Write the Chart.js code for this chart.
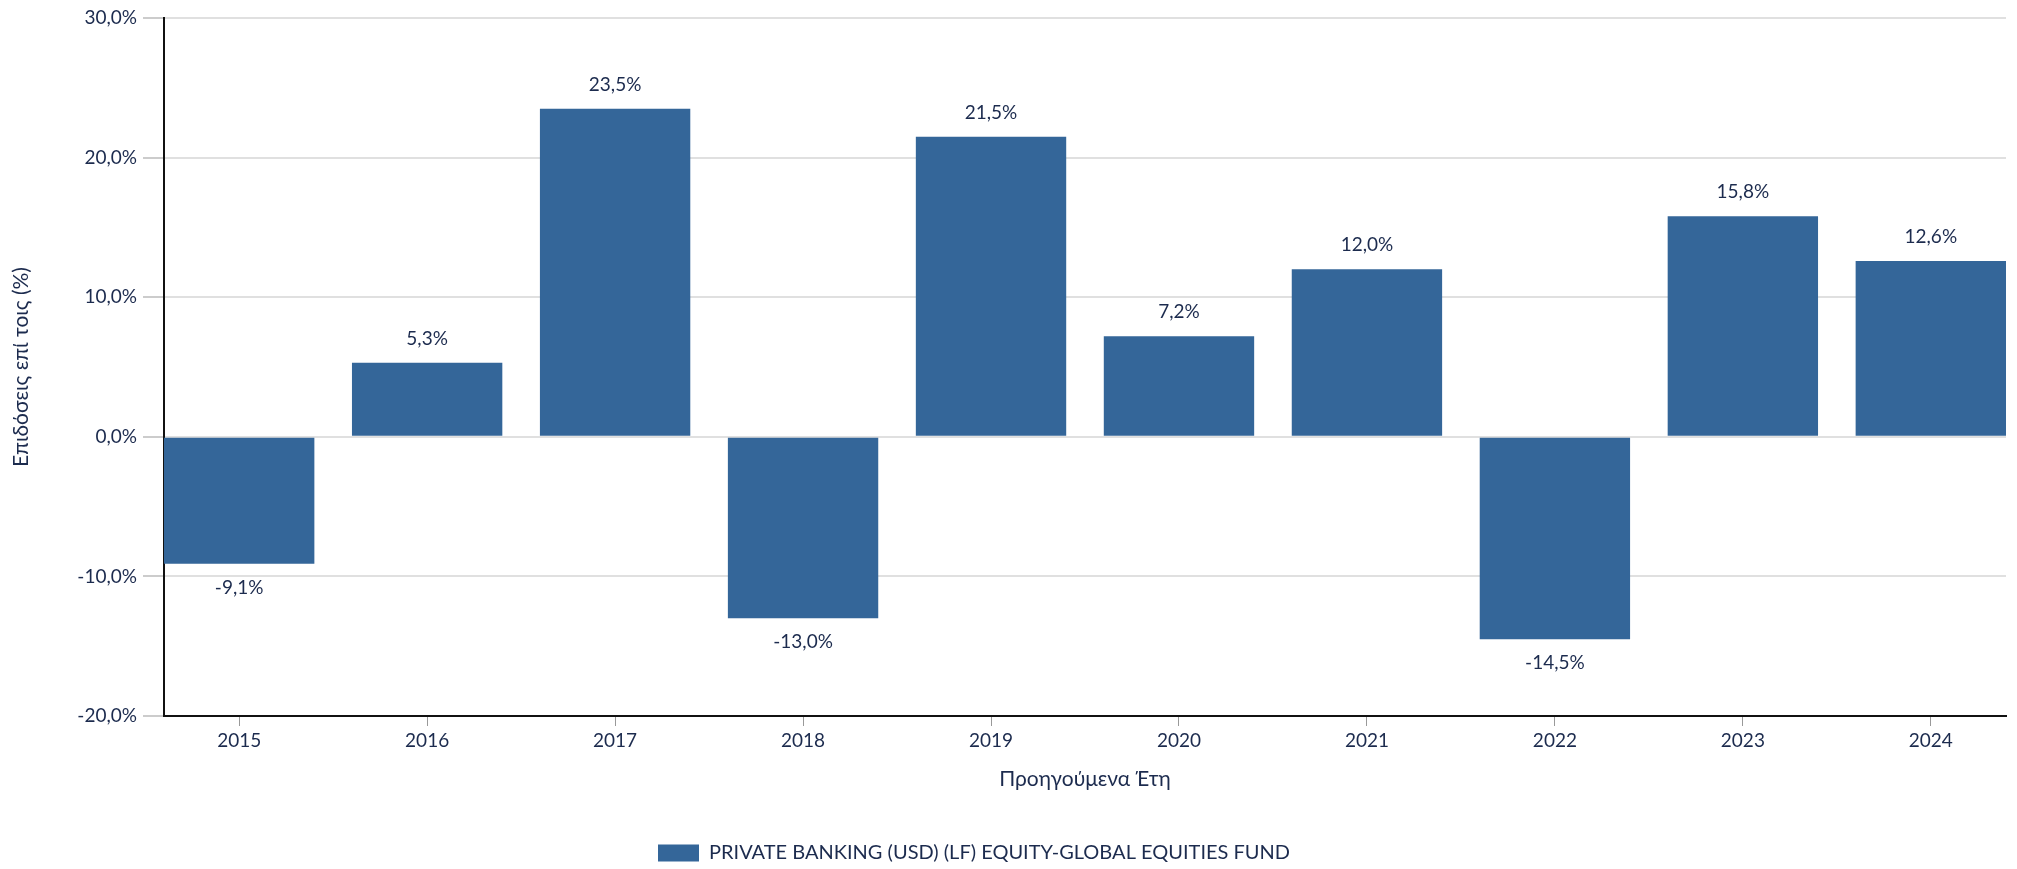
<!DOCTYPE html>
<html><head><meta charset="utf-8">
<script src="https://cdn.jsdelivr.net/npm/chart.js@4/dist/chart.umd.min.js"></script>
<style>html,body{margin:0;padding:0;background:#fff}#wrap{width:2017px;height:869px;position:relative}</style>
</head><body><div id="wrap"><canvas id="c"></canvas></div>
<script>
const years = ['2015','2016','2017','2018','2019','2020','2021','2022','2023','2024'];
const returns = [-9.1, 5.3, 23.5, -13.0, 21.5, 7.2, 12.0, -14.5, 15.8, 12.6];
const yTickValues = [-20, -10, 0, 10, 20, 30];
const seriesName = 'PRIVATE BANKING (USD) (LF) EQUITY-GLOBAL EQUITIES FUND';
const xTitle = 'Προηγούμενα Έτη';
const yTitle = 'Επιδόσεις επί τοις (%)';

const NAVY = '#1c2b4e';
const BAR = '#346699';
const FONT = "Lato, 'Noto Sans', sans-serif";
const fmt = v => Number(v).toFixed(1).replace('.', ',') + '%';

const valueLabels = {
  id: 'valueLabels',
  afterDatasetsDraw(chart) {
    const ctx = chart.ctx;
    const meta = chart.getDatasetMeta(0);
    ctx.save();
    ctx.font = '19px ' + FONT;
    ctx.fillStyle = NAVY;
    ctx.textAlign = 'center';
    ctx.textBaseline = 'middle';
    meta.data.forEach((el, i) => {
      const v = returns[i];
      const y = v >= 0 ? el.y - 24 : el.y + 24;
      ctx.fillText(fmt(v), el.x, y);
    });
    ctx.restore();
  }
};

const legendPlace = {
  id: 'legendPlace',
  afterLayout(chart) {
    const lg = chart.legend;
    if (!lg) return;
    const pad = lg.options.labels.padding;
    lg.left = 658 - pad;
    const h = lg.height;
    lg.top = 856 - h / 2;
    lg.bottom = lg.top + h;
  }
};

new Chart(document.getElementById('c'), {
  type: 'bar',
  data: {
    datasets: [{
      label: seriesName,
      data: returns.map((v, i) => ({ x: i, y: v })),
      backgroundColor: BAR,
      borderWidth: 0,
      barPercentage: 1,
      categoryPercentage: 0.8
    }]
  },
  options: {
    responsive: true,
    maintainAspectRatio: false,
    animation: false,
    devicePixelRatio: 1,
    layout: { padding: { left: 0, right: 11, top: 18, bottom: 0 } },
    plugins: {
      tooltip: { enabled: false },
      legend: {
        position: 'bottom',
        align: 'start',
        labels: {
          boxWidth: 41, boxHeight: 17, padding: 4,
          color: NAVY,
          font: { family: FONT, size: 20 }
        }
      }
    },
    scales: {
      x: {
        type: 'linear',
        min: -0.4,
        max: 9.4,
        offset: false,
        afterBuildTicks: s => { s.ticks = years.map((_, i) => ({ value: i })); },
        afterFit: s => {
          const lh = s.chart.legend ? s.chart.legend.height : 0;
          s.height = 869 - lh - 716;
        },
        ticks: {
          callback: v => years[v],
          color: NAVY,
          font: { family: FONT, size: 19 },
          padding: 3,
          maxRotation: 0,
          autoSkip: false
        },
        grid: { offset: false, drawOnChartArea: false, drawTicks: true, tickLength: 10, tickColor: '#999', tickWidth: 1 },
        border: { color: '#111', width: 2 },
        title: {
          display: true, text: xTitle, color: NAVY,
          font: { family: FONT, size: 21 },
          padding: { top: 4, bottom: 43 }
        }
      },
      y: {
        min: -20,
        max: 30,
        afterBuildTicks: s => { s.ticks = yTickValues.map(v => ({ value: v })); },
        afterFit: s => { s.width = 164; },
        ticks: {
          callback: v => fmt(v),
          color: NAVY,
          font: { family: FONT, size: 19 },
          padding: 6
        },
        grid: { color: '#e0e0e0', lineWidth: 2, tickLength: 21, tickColor: '#999', tickWidth: 1 },
        border: { color: '#111', width: 2 },
        title: {
          display: true, text: yTitle, color: NAVY,
          font: { family: FONT, size: 21 },
          padding: { top: 9, bottom: 0 }
        }
      }
    }
  },
  plugins: [valueLabels, legendPlace]
});
</script>
</body></html>
